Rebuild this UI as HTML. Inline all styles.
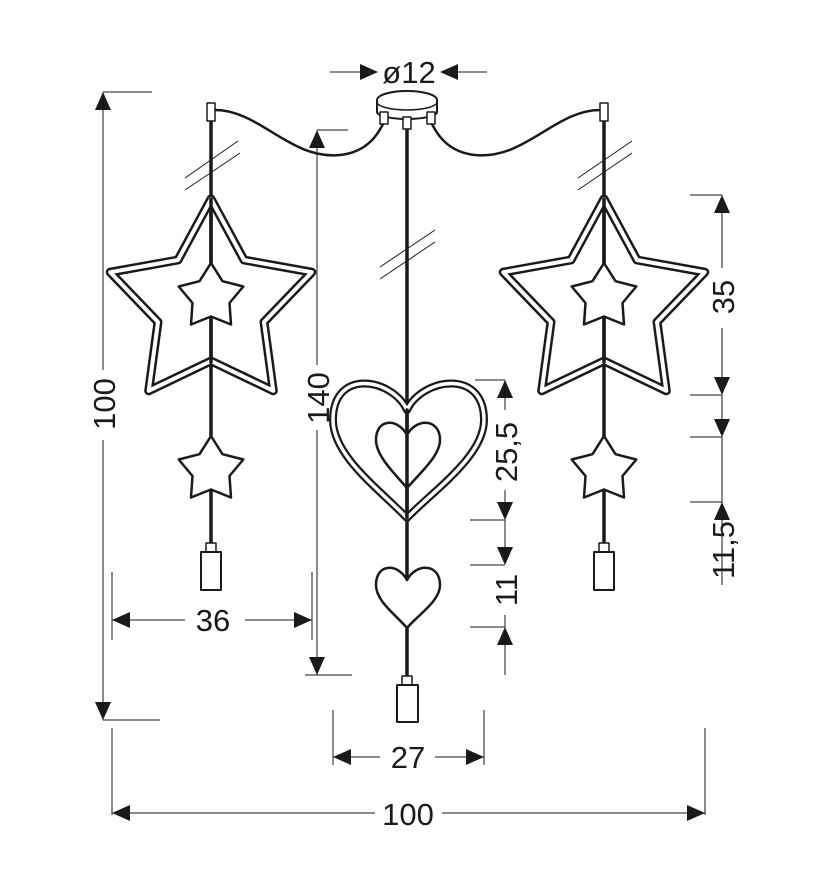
<!DOCTYPE html>
<html><head><meta charset="utf-8"><style>
html,body{margin:0;padding:0;background:#fff;}
svg{display:block}
text{font-family:"Liberation Sans",sans-serif;font-size:31px;fill:#1a1a1a}
</style></head><body>
<svg width="828" height="886" viewBox="0 0 828 886" xmlns="http://www.w3.org/2000/svg">
<defs>
<path id="bs" d="M0,-106 L33,-45 L100.8,-32.8 L53,17 L62.3,85.8 L0,56 L-62.3,85.8 L-53,17 L-100.8,-32.8 L-33,-45Z"/>
<path id="ss" d="M0,-34 L11.5,-15.8 L32.3,-10.5 L18.5,6 L20,27.5 L0,19.5 L-20,27.5 L-18.5,6 L-32.3,-10.5 L-11.5,-15.8Z"/>
<path id="tri" d="M0,0 L-8,18 L8,18Z"/>
</defs>
<g stroke="#1a1a1a" fill="none" stroke-linejoin="round" stroke-linecap="round">
<path d="M377,100 A30,9 0 0 1 437,100 L437,112 A30,7 0 0 1 377,112 Z" fill="#fff" stroke-width="2"/>
<path d="M377,102 A30,8 0 0 0 437,102" stroke-width="1.5"/>
<path d="M215,110 C260,110 290,160 340,155 C370,152 380,130 384,122" stroke-width="2.5"/>
<path d="M600,110 C555,110 525,160 475,155 C445,152 435,130 431,122" stroke-width="2.5"/>
<line x1="211" y1="120" x2="211" y2="545" stroke-width="3.5"/>
<line x1="604" y1="120" x2="604" y2="545" stroke-width="3.5"/>
<line x1="407" y1="122" x2="407" y2="680" stroke-width="3.5"/>
<rect x="207" y="103" width="8" height="18" fill="#fff" stroke-width="1.5"/>
<rect x="600" y="103" width="8" height="18" fill="#fff" stroke-width="1.5"/>
<rect x="380" y="112" width="8" height="12" fill="#fff" stroke-width="1.5"/>
<rect x="403" y="117" width="8" height="12" fill="#fff" stroke-width="1.5"/>
<rect x="427" y="112" width="8" height="12" fill="#fff" stroke-width="1.5"/>
<g stroke-width="1" stroke-linecap="butt">
<line x1="185" y1="178" x2="238" y2="141"/><line x1="185" y1="190" x2="240" y2="153"/>
<line x1="380" y1="267" x2="435" y2="230"/><line x1="380" y1="279" x2="435" y2="242"/>
<line x1="578" y1="178" x2="632" y2="141"/><line x1="578" y1="190" x2="632" y2="153"/>
</g>
<use href="#bs" x="211" y="305" stroke-width="9"/>
<use href="#bs" x="211" y="305" stroke="#fff" stroke-width="4"/>
<use href="#bs" x="604" y="305" stroke-width="9"/>
<use href="#bs" x="604" y="305" stroke="#fff" stroke-width="4"/>
<line x1="211" y1="199" x2="211" y2="362" stroke-width="3.5"/>
<line x1="604" y1="199" x2="604" y2="362" stroke-width="3.5"/>
<use href="#ss" x="211" y="297" fill="#fff" stroke-width="2.5"/>
<use href="#ss" x="211" y="470" fill="#fff" stroke-width="2.5"/>
<use href="#ss" x="604" y="297" fill="#fff" stroke-width="2.5"/>
<use href="#ss" x="604" y="470" fill="#fff" stroke-width="2.5"/>
<path d="M407,410 C392,378 333,368 333,420 C333,456 380,490 407,518 C434,490 484,456 484,420 C484,368 422,378 407,410Z" stroke-width="8"/>
<path d="M407,410 C392,378 333,368 333,420 C333,456 380,490 407,518 C434,490 484,456 484,420 C484,368 422,378 407,410Z" stroke="#fff" stroke-width="3.5"/>
<line x1="407" y1="410" x2="407" y2="518" stroke-width="3.5"/>
<path d="M407,435 C398,418 376,418 376,440 C376,456 395,474 407,488 C419,474 440,456 440,440 C440,418 416,418 407,435Z" fill="#fff" stroke-width="2.5"/>
<path d="M407,580 C398,563 376,563 376,585 C376,601 395,614 407,628 C419,614 440,601 440,585 C440,563 416,563 407,580Z" fill="#fff" stroke-width="2.5"/>
<line x1="407" y1="435" x2="407" y2="488" stroke-width="3.5"/>
<rect x="206" y="543" width="10" height="10" fill="#fff" stroke-width="1.5"/>
<rect x="201" y="552" width="20" height="38" fill="#fff" stroke-width="2"/>
<rect x="599" y="543" width="10" height="10" fill="#fff" stroke-width="1.5"/>
<rect x="594" y="552" width="20" height="38" fill="#fff" stroke-width="2"/>
<rect x="402" y="676" width="10" height="10" fill="#fff" stroke-width="1.5"/>
<rect x="397" y="685" width="21" height="37" fill="#fff" stroke-width="2"/>
</g>
<g stroke="#1a1a1a" stroke-width="1" fill="none">
<line x1="330" y1="72" x2="372" y2="72"/><line x1="444" y1="72" x2="487" y2="72"/>
<line x1="103" y1="92" x2="103" y2="370"/><line x1="103" y1="440" x2="103" y2="720"/>
<line x1="103" y1="92" x2="152" y2="92"/><line x1="103" y1="720" x2="160" y2="720"/>
<line x1="317" y1="130" x2="317" y2="365"/><line x1="317" y1="430" x2="317" y2="675"/>
<line x1="317" y1="130" x2="348" y2="130"/><line x1="305" y1="675" x2="352" y2="675"/>
<line x1="112" y1="620" x2="185" y2="620"/><line x1="245" y1="620" x2="312" y2="620"/>
<line x1="112" y1="572" x2="112" y2="640"/><line x1="312" y1="572" x2="312" y2="640"/>
<line x1="333" y1="757" x2="380" y2="757"/><line x1="435" y1="757" x2="484" y2="757"/>
<line x1="333" y1="710" x2="333" y2="765"/><line x1="484" y1="710" x2="484" y2="765"/>
<line x1="112" y1="813" x2="375" y2="813"/><line x1="442" y1="813" x2="705" y2="813"/>
<line x1="112" y1="728" x2="112" y2="815"/><line x1="705" y1="728" x2="705" y2="815"/>
<line x1="722" y1="195" x2="722" y2="268"/><line x1="722" y1="328" x2="722" y2="585"/>
<line x1="690" y1="195" x2="722" y2="195"/><line x1="690" y1="395" x2="722" y2="395"/>
<line x1="690" y1="437" x2="722" y2="437"/><line x1="690" y1="502" x2="722" y2="502"/>
<line x1="505" y1="380" x2="505" y2="410"/><line x1="505" y1="490" x2="505" y2="560"/><line x1="505" y1="615" x2="505" y2="675"/>
<line x1="475" y1="380" x2="505" y2="380"/><line x1="470" y1="520" x2="505" y2="520"/>
<line x1="470" y1="565" x2="505" y2="565"/><line x1="470" y1="627" x2="505" y2="627"/>
</g>
<g fill="#1a1a1a">
<use href="#tri" transform="translate(378,72) rotate(90)"/>
<use href="#tri" transform="translate(440,72) rotate(-90)"/>
<use href="#tri" transform="translate(103,92)"/>
<use href="#tri" transform="translate(103,720) rotate(180)"/>
<use href="#tri" transform="translate(317,130)"/>
<use href="#tri" transform="translate(317,675) rotate(180)"/>
<use href="#tri" transform="translate(112,620) rotate(-90)"/>
<use href="#tri" transform="translate(312,620) rotate(90)"/>
<use href="#tri" transform="translate(333,757) rotate(-90)"/>
<use href="#tri" transform="translate(484,757) rotate(90)"/>
<use href="#tri" transform="translate(112,813) rotate(-90)"/>
<use href="#tri" transform="translate(705,813) rotate(90)"/>
<use href="#tri" transform="translate(722,195)"/>
<use href="#tri" transform="translate(722,395) rotate(180)"/>
<use href="#tri" transform="translate(722,437) rotate(180)"/>
<use href="#tri" transform="translate(722,502)"/>
<use href="#tri" transform="translate(505,380)"/>
<use href="#tri" transform="translate(505,520) rotate(180)"/>
<use href="#tri" transform="translate(505,565) rotate(180)"/>
<use href="#tri" transform="translate(505,627)"/>
</g>
<text x="409" y="83" text-anchor="middle">ø12</text>
<text x="213" y="631" text-anchor="middle">36</text>
<text x="408" y="768" text-anchor="middle">27</text>
<text x="408" y="825" text-anchor="middle">100</text>
<text transform="translate(115,404) rotate(-90)" text-anchor="middle">100</text>
<text transform="translate(329,398) rotate(-90)" text-anchor="middle">140</text>
<text transform="translate(734,297) rotate(-90)" text-anchor="middle">35</text>
<text transform="translate(734,550) rotate(-90)" text-anchor="middle">11,5</text>
<text transform="translate(517,452) rotate(-90)" text-anchor="middle">25,5</text>
<text transform="translate(517,590) rotate(-90)" text-anchor="middle">11</text>
</svg>
</body></html>
